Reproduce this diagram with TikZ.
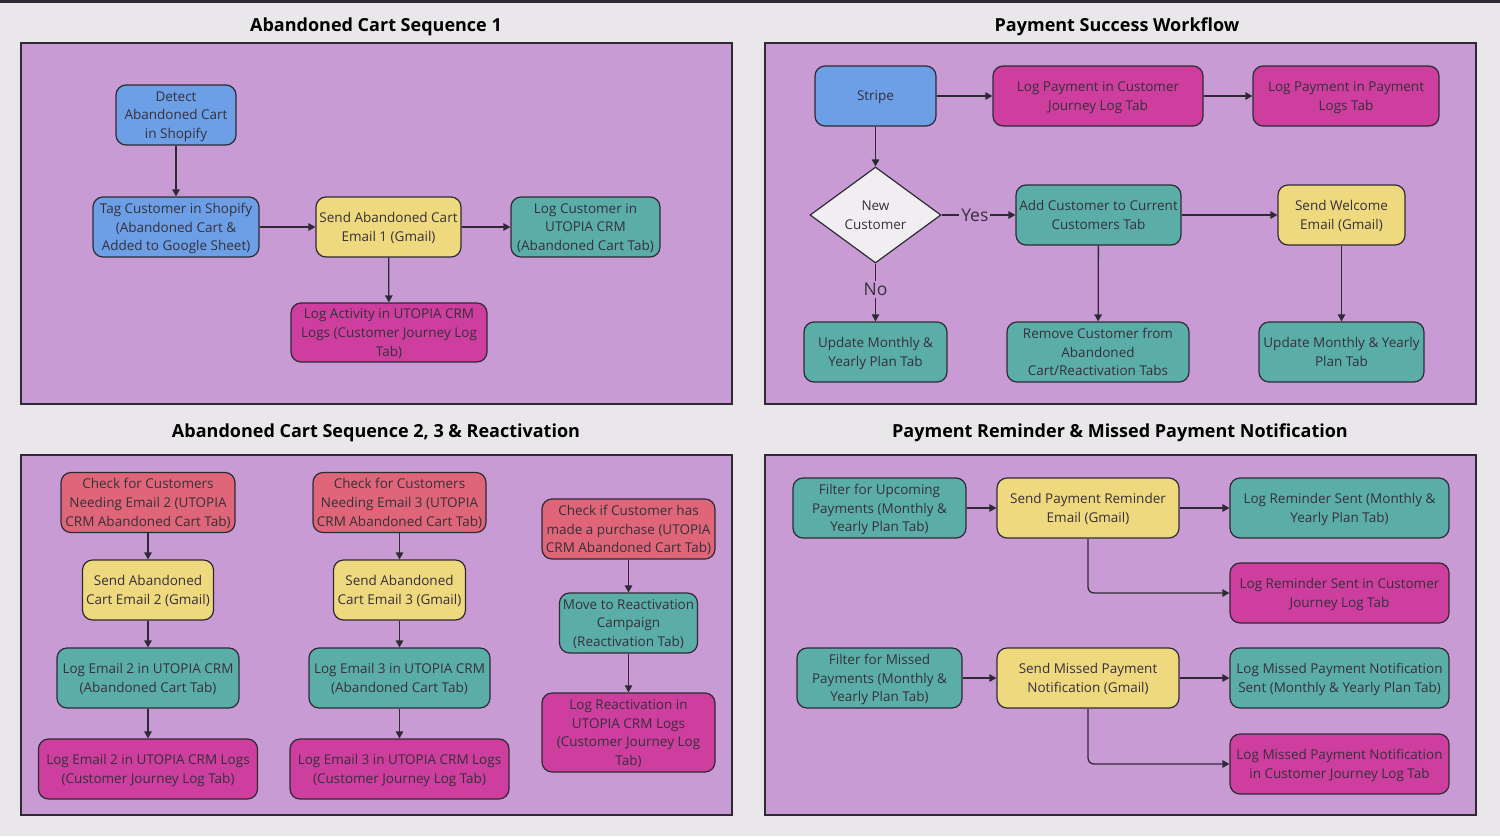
\documentclass[tikz,border=0pt]{standalone}
\usepackage{fontspec}
\setmainfont{Open Sans}
\usetikzlibrary{arrows.meta,shapes.geometric}
\definecolor{bg}{HTML}{E9E7EA}
\definecolor{panel}{HTML}{C99BD5}
\definecolor{edge}{HTML}{2E2A33}
\definecolor{txt}{HTML}{36303B}
\definecolor{cblue}{HTML}{6C9FE6}
\definecolor{cyellow}{HTML}{EED97E}
\definecolor{cteal}{HTML}{5BAEA7}
\definecolor{cmag}{HTML}{CD3E9E}
\definecolor{cred}{HTML}{DF6678}
\definecolor{clight}{HTML}{F0EEF0}
\tikzset{
  box/.style={draw=edge, line width=1.2pt, rounded corners=10pt, align=center,
    minimum height=60pt, inner xsep=1pt, inner ysep=1pt, text=txt, text depth=0pt,
    font=\fontsize{13.5}{18.7}\selectfont},
  bw/.style={minimum width=#1pt},
  bh/.style={minimum height=#1pt},
  arr/.style={draw=edge, line width=1.3pt, -{Triangle[length=7pt,width=7.5pt]}},
  paneltitle/.style={font=\fontsize{18}{21}\selectfont\bfseries, text=black},
  panelbox/.style={fill=panel, draw=edge, line width=1.3pt},
  lbl/.style={fill=panel, inner sep=2pt, text=txt, font=\fontsize{17.5}{20}\selectfont}
}
\begin{document}
\begin{tikzpicture}[x=1pt,y=-1pt]
\useasboundingbox (0,0) rectangle (1500,836);
\fill[bg] (0,0) rectangle (1500,836);
\fill[edge] (0,0) rectangle (1500,2.5);

% panels
\draw[panelbox] (21,43) rectangle (732,404);
\draw[panelbox] (765,43) rectangle (1476,404);
\draw[panelbox] (21,455) rectangle (732,815);
\draw[panelbox] (765,455) rectangle (1476,815);

\node[paneltitle] (t1) at (376,27) {Abandoned Cart Sequence 1};
\node[paneltitle] (t2) at (1117,27) {Payment Success Workflow};
\node[paneltitle] (t3) at (376,432.5) {Abandoned Cart Sequence 2, 3 \& Reactivation};
\node[paneltitle] (t4) at (1120,432.5) {Payment Reminder \& Missed Payment Notification};

% ---------- Panel 1 ----------
\node[box, fill=cblue, bw=120] (detect) at (176,115) {Detect\\Abandoned Cart\\in Shopify};
\node[box, fill=cblue, bw=166] (tag) at (176,227) {Tag Customer in Shopify\\(Abandoned Cart \&\\Added to Google Sheet)};
\node[box, fill=cyellow, bw=145] (send1) at (388.5,227) {Send Abandoned Cart\\Email 1 (Gmail)};
\node[box, fill=cteal, bw=149] (logc) at (585.5,227) {Log Customer in\\UTOPIA CRM\\(Abandoned Cart Tab)};
\node[box, fill=cmag, bw=196, bh=59] (loga) at (389,332.5) {Log Activity in UTOPIA CRM\\Logs (Customer Journey Log\\Tab)};
\draw[arr] (detect) -- (tag);
\draw[arr] (tag) -- (send1);
\draw[arr] (send1) -- (logc);
\draw[arr] (send1) -- (loga);

% ---------- Panel 2 ----------
\node[box, fill=cblue, bw=121] (stripe) at (875.5,96) {Stripe};
\node[box, fill=cmag, bw=210] (lp1) at (1098,96) {Log Payment in Customer\\Journey Log Tab};
\node[box, fill=cmag, bw=186] (lp2) at (1346,96) {Log Payment in Payment\\Logs Tab};
\node[diamond, draw=edge, line width=1.2pt, fill=clight, minimum width=131pt, minimum height=96pt,
  inner sep=0pt, align=center, text=txt, text depth=0pt, font=\fontsize{13.5}{18.7}\selectfont] (dia) at (875.5,215) {New\\Customer};
\node[box, fill=cteal, bw=165] (add) at (1098.5,215) {Add Customer to Current\\Customers Tab};
\node[box, fill=cyellow, bw=127] (welc) at (1341.5,215) {Send Welcome\\Email (Gmail)};
\node[box, fill=cteal, bw=143] (upd1) at (875.5,352) {Update Monthly \&\\Yearly Plan Tab};
\node[box, fill=cteal, bw=182] (rem) at (1098,352) {Remove Customer from\\Abandoned\\Cart/Reactivation Tabs};
\node[box, fill=cteal, bw=165] (upd2) at (1341.5,352) {Update Monthly \& Yearly\\Plan Tab};
\draw[arr] (stripe) -- (lp1);
\draw[arr] (lp1) -- (lp2);
\draw[arr] (stripe) -- (dia);
\draw[arr] (dia.east) -- node[lbl, pos=0.45] {Yes} (add.west);
\draw[arr] (dia.south) -- node[lbl, pos=0.45] {No} (upd1.north);
\draw[arr] (add) -- (welc);
\draw[arr] (add) -- (rem);
\draw[arr] (welc) -- (upd2);

% ---------- Panel 3 ----------
\node[box, fill=cred, bw=174] (c2) at (148,502.5) {Check for Customers\\Needing Email 2 (UTOPIA\\CRM Abandoned Cart Tab)};
\node[box, fill=cyellow, bw=131] (s2) at (148,590) {Send Abandoned\\Cart Email 2 (Gmail)};
\node[box, fill=cteal, bw=182] (l2) at (148,678) {Log Email 2 in UTOPIA CRM\\(Abandoned Cart Tab)};
\node[box, fill=cmag, bw=219] (j2) at (148,769) {Log Email 2 in UTOPIA CRM Logs\\(Customer Journey Log Tab)};
\node[box, fill=cred, bw=173] (c3) at (399.5,502.5) {Check for Customers\\Needing Email 3 (UTOPIA\\CRM Abandoned Cart Tab)};
\node[box, fill=cyellow, bw=132] (s3) at (399.5,590) {Send Abandoned\\Cart Email 3 (Gmail)};
\node[box, fill=cteal, bw=181] (l3) at (399.5,678) {Log Email 3 in UTOPIA CRM\\(Abandoned Cart Tab)};
\node[box, fill=cmag, bw=219] (j3) at (399.5,769) {Log Email 3 in UTOPIA CRM Logs\\(Customer Journey Log Tab)};
\node[box, fill=cred, bw=173] (ci) at (628.5,529) {Check if Customer has\\made a purchase (UTOPIA\\CRM Abandoned Cart Tab)};
\node[box, fill=cteal, bw=138] (mv) at (628.5,623) {Move to Reactivation\\Campaign\\(Reactivation Tab)};
\node[box, fill=cmag, bw=173, bh=79] (lr) at (628.5,732.5) {Log Reactivation in\\UTOPIA CRM Logs\\(Customer Journey Log\\Tab)};
\draw[arr] (c2) -- (s2);
\draw[arr] (s2) -- (l2);
\draw[arr] (l2) -- (j2);
\draw[arr] (c3) -- (s3);
\draw[arr] (s3) -- (l3);
\draw[arr] (l3) -- (j3);
\draw[arr] (ci) -- (mv);
\draw[arr] (mv) -- (lr);

% ---------- Panel 4 ----------
\node[box, fill=cteal, bw=173] (fu) at (879.5,508) {Filter for Upcoming\\Payments (Monthly \&\\Yearly Plan Tab)};
\node[box, fill=cyellow, bw=182] (spr) at (1088,508) {Send Payment Reminder\\Email (Gmail)};
\node[box, fill=cteal, bw=219] (lrs) at (1339.5,508) {Log Reminder Sent (Monthly \&\\Yearly Plan Tab)};
\node[box, fill=cmag, bw=219] (lrj) at (1339.5,593) {Log Reminder Sent in Customer\\Journey Log Tab};
\node[box, fill=cteal, bw=165] (fm) at (879.5,678) {Filter for Missed\\Payments (Monthly \&\\Yearly Plan Tab)};
\node[box, fill=cyellow, bw=182] (smp) at (1088,678) {Send Missed Payment\\Notification (Gmail)};
\node[box, fill=cteal, bw=219] (lms) at (1339.5,678) {Log Missed Payment Notification\\Sent (Monthly \& Yearly Plan Tab)};
\node[box, fill=cmag, bw=219] (lmj) at (1339.5,764) {Log Missed Payment Notification\\in Customer Journey Log Tab};
\draw[arr] (fu) -- (spr);
\draw[arr] (spr) -- (lrs);
\draw[arr, rounded corners=6pt] (spr.south) |- (lrj.west);
\draw[arr] (fm) -- (smp);
\draw[arr] (smp) -- (lms);
\draw[arr, rounded corners=6pt] (smp.south) |- (lmj.west);
\end{tikzpicture}
\end{document}
